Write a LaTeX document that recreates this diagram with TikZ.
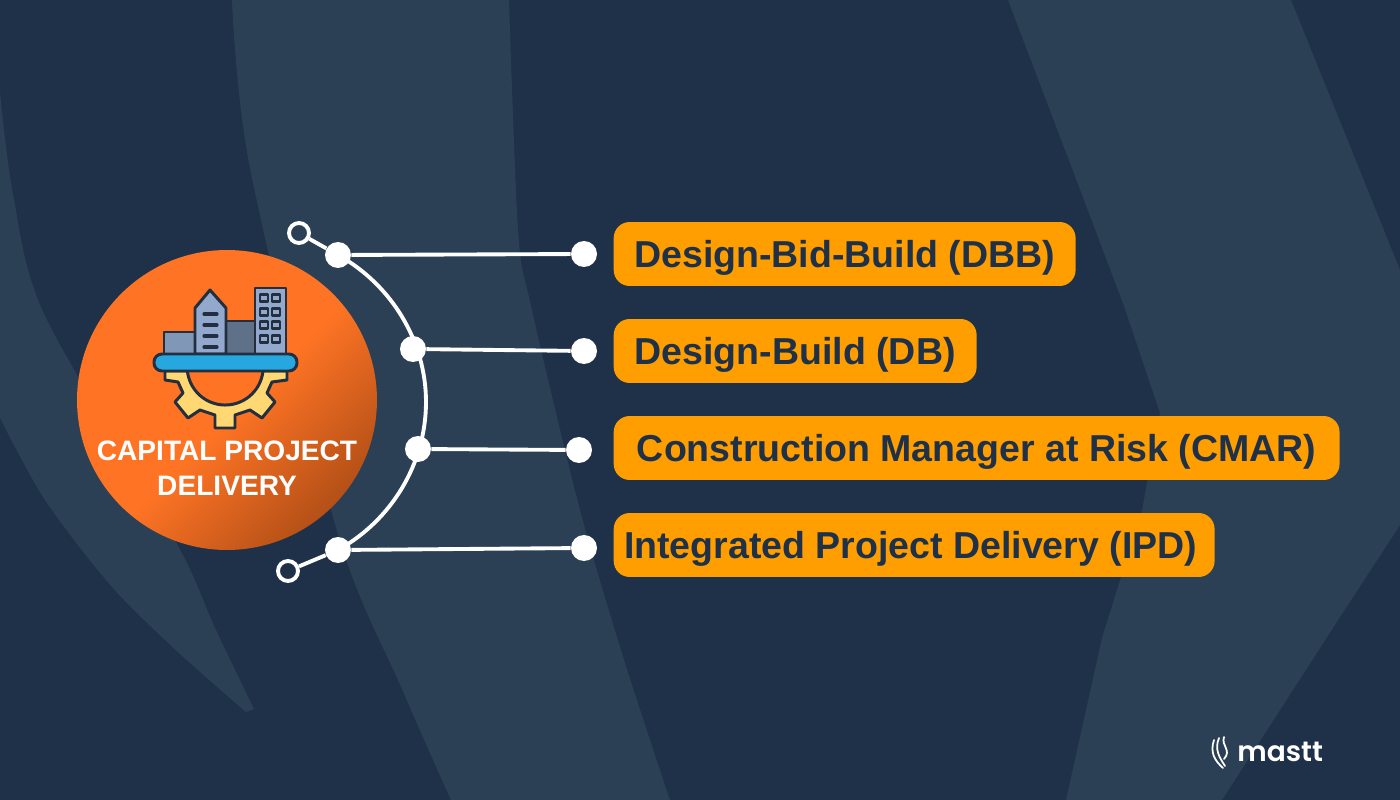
\documentclass[tikz,border=0pt]{standalone}
\usepackage{fontspec}
\setmainfont{Liberation Sans}
\newfontfamily\logofont{Poppins SemiBold}
\usetikzlibrary{positioning}

\definecolor{bgdark}{HTML}{1F3149}
\definecolor{bgband}{HTML}{2B3F55}
\definecolor{stageorange}{HTML}{FF9E00}
\definecolor{discorange}{HTML}{FF7424}
\definecolor{discbrown}{HTML}{A44814}
\definecolor{iconline}{HTML}{232F3E}
\definecolor{platecolor}{HTML}{27A7DF}
\definecolor{gearcolor}{HTML}{FFD873}
\definecolor{blockcolor}{HTML}{8197B8}
\definecolor{towercolor}{HTML}{92A8CD}
\definecolor{shadecolor}{HTML}{5F7089}

\pgfdeclarehorizontalshading{discshade}{100bp}{
  color(0bp)=(discorange); color(52bp)=(discorange);
  color(80bp)=(discbrown); color(100bp)=(discbrown)}

\begin{document}
\begin{tikzpicture}[
                x=0.02cm, y=-0.02cm,
                joint/.style={circle, fill=white, minimum size=0.52cm, inner sep=0pt},
                endring/.style={circle, draw=white, line width=2.2pt, minimum size=0.4cm, inner sep=0pt},
                wire/.style={draw=white, line width=2.2pt},
                stagebox/.style={fill=stageorange, rounded corners=0.32cm, minimum height=1.28cm,
                    inner sep=0pt, text=bgdark, text height=15.3pt, text depth=0pt,
                    font=\fontsize{21.35}{25}\selectfont\bfseries},
                iconpart/.style={draw=iconline, line width=1.7pt, line join=round}
            ]
                \useasboundingbox (0,0) rectangle (1400,800);

                % Background
                \fill[bgdark] (0,0) rectangle (1400,800);
                \fill[bgband] plot[smooth] coordinates {(232,0) (250,168) (337,531) (402,689) (451,800)}
                    -- plot[smooth] coordinates {(670,800) (625,663) (580,510) (531,306) (518,230) (509,0)} -- cycle;
                \fill[bgband] plot[smooth] coordinates {(0,92) (13,194) (45,316) (175,540) (215,628) (254,709)}
                    -- plot[smooth] coordinates {(246,712) (179,653) (112,587) (45,500) (0,418)} -- cycle;
                \fill[bgband] (1008,0) -- (1070,163) -- (1124,306) -- (1160,413) -- (1142,510) -- (1102,638) -- (1066,800)
                    -- (1222,800) -- (1340,617) -- (1400,525) -- (1400,270) -- (1291,0) -- cycle;

                % Centre disc
                \node[circle, minimum size=6cm, inner sep=0pt, shading=discshade, shading angle=-45] (disc) at (227,400) {};

                % Gear
                \filldraw[iconpart, fill=gearcolor] (165,371) -- (165,380) -- (178,382) -- (183,393) -- (175,402) -- (188,418)
                    -- (200,410) -- (215,415) -- (215,428) -- (235,428) -- (235,415) -- (250,410) -- (262,418) -- (275,402)
                    -- (267,393) -- (272,382) -- (287,380) -- (287,371) -- (263,371)
                    arc[start angle=6, end angle=174, radius=38] -- cycle;

                % Buildings
                \filldraw[iconpart, fill=blockcolor] (164,332) rectangle (195,354);
                \filldraw[iconpart, fill=shadecolor] (226,321) rectangle (255,354);
                \filldraw[iconpart, fill=towercolor] (195,354) -- (195,308) -- (210,290) -- (226,308) -- (226,354) -- cycle;
                \filldraw[iconpart, fill=towercolor] (255,288) rectangle (286,354);
                \foreach \yy in {314,325,336,347}
                    \draw[iconline, line width=1.8pt, line cap=round] (204,\yy) -- (217,\yy);
                \foreach \yy in {298,312,325,339} {
                    \filldraw[iconpart, fill=towercolor] (260,\yy-3.5) rectangle (268,\yy+3.5);
                    \filldraw[iconpart, fill=towercolor] (272,\yy-3.5) rectangle (280,\yy+3.5);
                }
                \filldraw[iconpart, fill=platecolor, rounded corners=0.16cm] (154,354) rectangle (297,371);

                % Disc label
                \node[white, align=center, font=\fontsize{16}{20}\selectfont\bfseries] (disclabel) at (227,468) {CAPITAL PROJECT\\DELIVERY};

                % Joints on the arc
                \node[joint] (jtop) at (338,255) {};
                \node[joint] (jtwo) at (413,349) {};
                \node[joint] (jthree) at (418,449) {};
                \node[joint] (jbot) at (338,550) {};
                \node[endring] (ringtop) at (299,233) {};
                \node[endring] (ringbot) at (288,571) {};
                \coordinate (apex) at (426,402);

                % Dots and stages
                \node[joint] (dotdbb) at (584,254) {};
                \node[joint] (dotdb) at (584,351) {};
                \node[joint] (dotcmar) at (579,450) {};
                \node[joint] (dotipd) at (584,548) {};

                \node[stagebox, minimum width=9.24cm, right=0.32cm of dotdbb] (dbb) {Design-Bid-Build (DBB)};
                \node[stagebox, minimum width=7.26cm, right=0.32cm of dotdb] (db) {Design-Build (DB)};
                \node[stagebox, minimum width=14.52cm, right=0.42cm of dotcmar, yshift=0.04cm] (cmar) {Construction Manager at Risk (CMAR)};
                \node[stagebox, minimum width=12.02cm, right=0.32cm of dotipd, yshift=0.06cm] (ipd) {\hspace*{-0.14cm}Integrated Project Delivery (IPD)};

                % Connectors
                \draw[wire] (jtop.center) to[out=-29, in=90, looseness=0.91] (apex) to[out=-90, in=29, looseness=0.91] (jbot.center);
                \draw[wire] (ringtop) -- (jtop);
                \draw[wire] (ringbot) -- (jbot);
                \draw[wire] (jtop) -- (dotdbb);
                \draw[wire] (jtwo) -- (dotdb);
                \draw[wire] (jthree) -- (dotcmar);
                \draw[wire] (jbot) -- (dotipd);

                % Logo
                \draw[white, line width=1pt, line cap=round] (1214,740) .. controls (1210,752) and (1214,760) .. (1223,768);
                \draw[white, line width=1pt, line cap=round] (1219,738) .. controls (1214,750) and (1220,758) .. (1225,766);
                \draw[white, line width=1pt, line cap=round] (1224,737) .. controls (1221,746) and (1232,750) .. (1224,759);
                \node[white, anchor=west, inner sep=0pt, font=\logofont\fontsize{16}{20}\selectfont] (logo) at (1237,752) {mastt};
            \end{tikzpicture}
\end{document}
